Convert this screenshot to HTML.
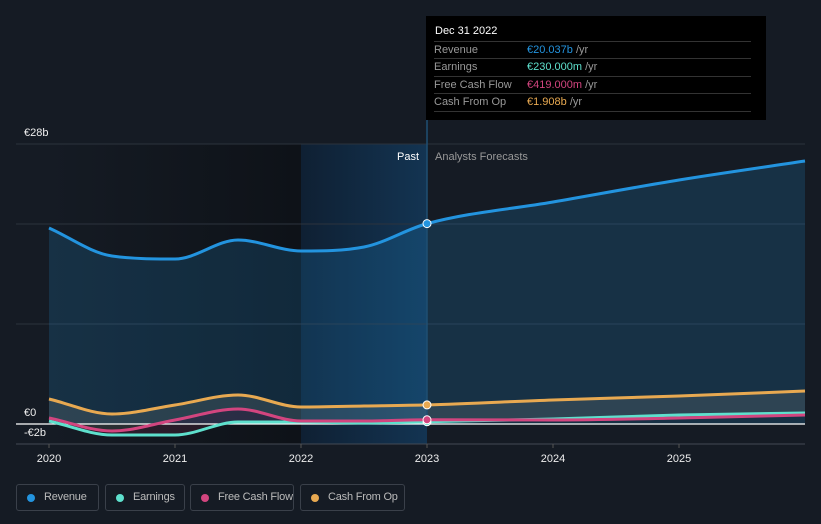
<!DOCTYPE html>
<html><head><meta charset="utf-8"><style>
body{margin:0;background:#151b24;width:821px;height:524px;overflow:hidden;font-family:"Liberation Sans",sans-serif;position:relative}
svg{position:absolute;left:0;top:0}
.tt{position:absolute;left:426px;top:16px;width:340px;height:104px;background:#000;color:#ddd;font-size:11px}
.tt .h{position:absolute;left:9px;top:9px;color:#fff;font-size:11px}
.row{position:absolute;left:8px;width:317px;height:17px;border-top:1px solid #333;color:#999;line-height:17px}
.row span{position:absolute;left:93px}
.leg{position:absolute;top:484px;height:27px;border:1px solid #3a404a;border-radius:3px;color:#bbb;font-size:11px;line-height:25px;box-sizing:border-box;padding-left:27px;white-space:nowrap;letter-spacing:-0.2px}
.leg i{position:absolute;left:10px;top:9px;width:8px;height:8px;border-radius:50%}
</style></head><body>
<svg width="821" height="524" id="chart"></svg>
<div class="tt">
<div class="h">Dec 31 2022</div>
<div class="row" style="top:25px">Revenue<span><b style="font-weight:normal;color:#2394df">€20.037b</b> /yr</span></div>
<div class="row" style="top:42px">Earnings<span><b style="font-weight:normal;color:#5ee0cd">€230.000m</b> /yr</span></div>
<div class="row" style="top:60px">Free Cash Flow<span><b style="font-weight:normal;color:#d2457f">€419.000m</b> /yr</span></div>
<div class="row" style="top:77px;border-bottom:1px solid #333">Cash From Op<span><b style="font-weight:normal;color:#e8a951">€1.908b</b> /yr</span></div>
</div>
<div class="leg" style="left:16px;width:83px"><i style="background:#2394df"></i>Revenue</div>
<div class="leg" style="left:105px;width:80px"><i style="background:#5ee0cd"></i>Earnings</div>
<div class="leg" style="left:190px;width:104px"><i style="background:#d2457f"></i>Free Cash Flow</div>
<div class="leg" style="left:300px;width:105px"><i style="background:#e8a951"></i>Cash From Op</div>
<script>
const years=[2020,2020.5,2021,2021.5,2022,2022.5,2023,2024,2025,2026];
const revenue=[19.6,16.8,16.5,18.4,17.3,17.7,20.037,22.2,24.4,26.3];
const cashFromOp=[2.5,1.0,1.9,2.9,1.7,1.8,1.908,2.4,2.8,3.3];
const fcf=[0.6,-0.7,0.4,1.5,0.3,0.3,0.419,0.4,0.6,0.9];
const earnings=[0.3,-1.1,-1.1,0.2,0.2,0.1,0.23,0.5,0.9,1.1];
const xTicks=[2020,2021,2022,2023,2024,2025];
const yLabels=[{v:28,t:"€28b"},{v:0,t:"€0"},{v:-2,t:"-€2b"}];
const X=y=>49+(y-2020)*126, Y=v=>424-v*10;
const svg=document.getElementById('chart');const NS='http://www.w3.org/2000/svg';
function el(t,a,p){const e=document.createElementNS(NS,t);for(const k in a)e.setAttribute(k,a[k]);(p||svg).appendChild(e);return e;}
const defs=el('defs',{});
defs.innerHTML='<linearGradient id="pg" x1="0" x2="1"><stop offset="0" stop-color="#151b24"/><stop offset="1" stop-color="#0e1218"/></linearGradient><linearGradient id="hg" x1="0" x2="1"><stop offset="0" stop-color="#0f2033"/><stop offset="1" stop-color="#133452"/></linearGradient>';
let r=el('rect',{x:X(2020),y:144,width:X(2022)-X(2020),height:300,fill:'url(#pg)'});

r=el('rect',{x:X(2022),y:144,width:X(2023)-X(2022),height:300,fill:'url(#hg)'});

[144,224,324].forEach(g=>el('line',{x1:16,x2:805,y1:g,y2:g,stroke:'#2c333d'}));
el('line',{x1:16,x2:805,y1:444,y2:444,stroke:'#444a53'});
function segs(p){const n=p.length,dx=[],m=[],t=[];for(let i=0;i<n-1;i++){dx[i]=p[i+1][0]-p[i][0];m[i]=(p[i+1][1]-p[i][1])/dx[i];}
t[0]=m[0];t[n-1]=m[n-2];for(let i=1;i<n-1;i++){t[i]=m[i-1]*m[i]<=0?0:(m[i-1]+m[i])/2;}
for(let i=0;i<n-1;i++){if(m[i]===0){t[i]=0;t[i+1]=0;continue;}const a=t[i]/m[i],b=t[i+1]/m[i],s=a*a+b*b;if(s>9){const k=3/Math.sqrt(s);t[i]=k*a*m[i];t[i+1]=k*b*m[i];}}
let d='';for(let i=0;i<n-1;i++){const h=dx[i]/3;d+=`C${p[i][0]+h},${p[i][1]+t[i]*h} ${p[i+1][0]-h},${p[i+1][1]-t[i+1]*h} ${p[i+1][0]},${p[i+1][1]}`;}return d;}
function pts(vals){return vals.map((v,i)=>[X(years[i]),Y(v)]);}
function path(vals){const p=pts(vals);return 'M'+p[0]+segs(p);}
function band(top,bot,fill,name){const b=pts(bot).reverse();const bb=b.map(q=>[-q[0],q[1]]);
let s=segs(bb).replace(/(-?[\d.]+),(-?[\d.]+)/g,(m0,x,y)=>(-parseFloat(x))+','+y);
const e=el('path',{d:path(top)+'L'+b[0]+s+'Z',fill});}
band(revenue,revenue.map(()=>0),'rgba(35,148,223,0.18)','revenue-area');
band(cashFromOp,fcf,'rgba(200,200,180,0.13)','cash-area');
band(fcf,earnings,'rgba(210,69,127,0.12)','fcf-area');
el('line',{x1:16,x2:805,y1:424,y2:424,stroke:'#fff','stroke-width':1.2});
el('line',{x1:427,x2:427,y1:16,y2:424,stroke:'#1f4f73','stroke-width':1.5});
[[earnings,'#5ee0cd','earnings-line'],[fcf,'#d2457f','fcf-line'],[cashFromOp,'#e8a951','cash-from-op-line'],[revenue,'#2394df','revenue-line']].forEach(([v,c,n])=>{
const e=el('path',{d:path(v),fill:'none',stroke:c,'stroke-width':3});
const d=el('circle',{cx:X(2023),cy:Y(v[6]),r:4,fill:c,stroke:'#fff','stroke-width':1});});
xTicks.forEach(t=>{el('line',{x1:X(t),x2:X(t),y1:444,y2:448,stroke:'#555'});const e=el('text',{x:X(t),y:462,fill:'#eee','font-size':11,'text-anchor':'middle'});e.textContent=t;});
yLabels.forEach(l=>{const e=el('text',{x:24,y:l.v==28?136:l.v==0?416:436,fill:'#eee','font-size':11});e.textContent=l.t;});
let t=el('text',{x:419,y:160,fill:'#fff','font-size':11,'text-anchor':'end'});t.textContent='Past';
t=el('text',{x:435,y:160,fill:'#999','font-size':11});t.textContent='Analysts Forecasts';
</script>
</body></html>
